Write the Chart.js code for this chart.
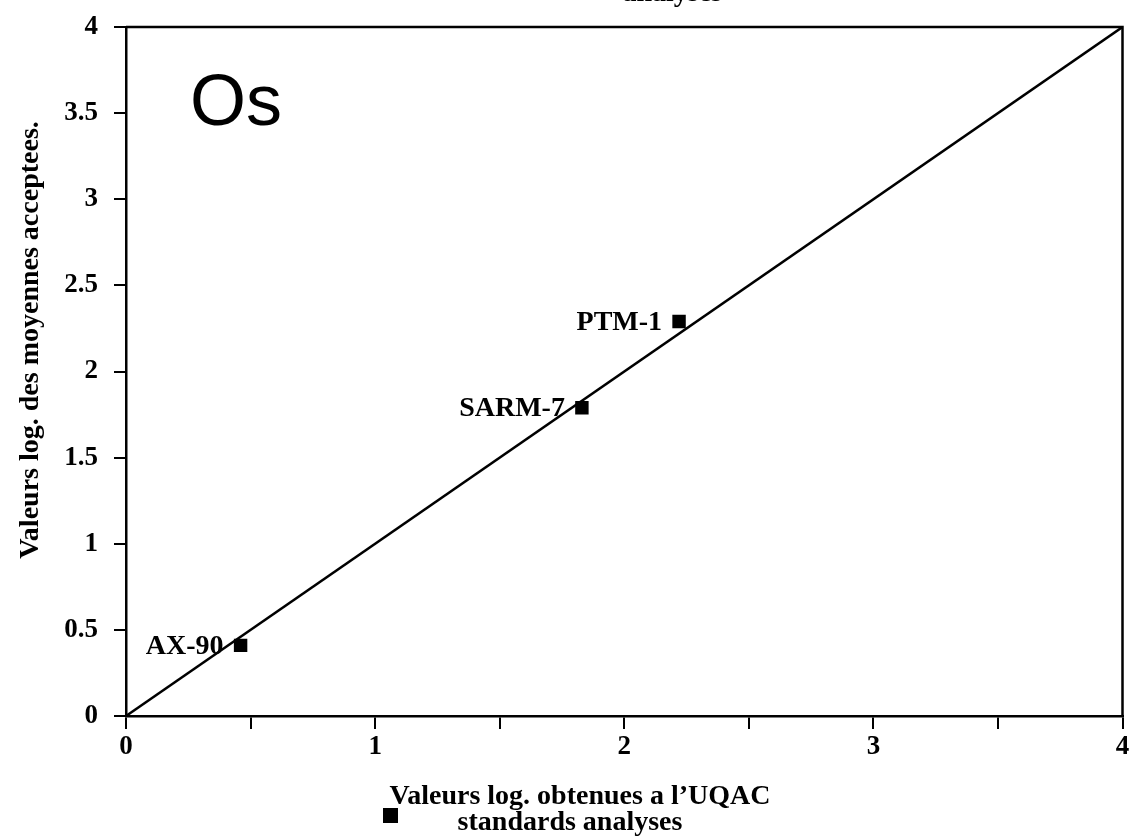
<!DOCTYPE html>
<html>
<head>
<meta charset="utf-8">
<script src="https://cdn.jsdelivr.net/npm/chart.js@4/dist/chart.umd.min.js"></script>
<style>
html,body{margin:0;padding:0;background:#fff;}
#wrap{width:1132px;height:839px;}
</style>
</head>
<body>
<div id="wrap"><canvas id="c" width="1132" height="839"></canvas></div>
<script>
// ---- data ----
const sampleNames = ['AX-90', 'SARM-7', 'PTM-1'];
const uqacValues = [0.46, 1.83, 2.22];      // x: log values obtained at UQAC
const acceptedValues = [0.41, 1.79, 2.29];  // y: log accepted mean values
const refLineX = [0, 4];
const refLineY = [0, 4];
const xTickLabels = ['0', '1', '2', '3', '4'];
const yTickLabels = ['0', '0.5', '1', '1.5', '2', '2.5', '3', '3.5', '4'];
const elementName = 'Os';
const xTitleLines = ["Valeurs log. obtenues a l\u2019UQAC", 'standards analyses'];
const topFragment = 'analyses';
const yTitle = 'Valeurs log. des moyennes acceptees.';

const SERIF = '"Liberation Serif", "Times New Roman", serif';

const pointsData = uqacValues.map((v, i) => ({x: v, y: acceptedValues[i]}));
const lineData = refLineX.map((v, i) => ({x: v, y: refLineY[i]}));

const decor = {
  id: 'decor',
  afterDraw(chart) {
    const ctx = chart.ctx;
    const a = chart.chartArea;
    const xs = chart.scales.x, ys = chart.scales.y;
    ctx.save();
    // top and right frame
    ctx.strokeStyle = '#000';
    ctx.lineWidth = 2.5;
    ctx.beginPath();
    ctx.moveTo(a.left, a.top);
    ctx.lineTo(a.right, a.top);
    ctx.lineTo(a.right, a.bottom);
    ctx.stroke();

    // point labels
    ctx.fillStyle = '#000';
    ctx.font = 'bold 28px ' + SERIF;
    ctx.textAlign = 'right';
    ctx.textBaseline = 'middle';
    sampleNames.forEach((n, i) => {
      const px = xs.getPixelForValue(uqacValues[i]);
      const py = ys.getPixelForValue(acceptedValues[i]);
      ctx.fillText(n, px - 17, py + 1);
    });

    // element name
    ctx.font = '72px "Liberation Sans", Arial, sans-serif';
    ctx.textAlign = 'left';
    ctx.textBaseline = 'alphabetic';
    ctx.fillText(elementName, 190, 125);

    // x axis title (two lines) with marker
    ctx.font = 'bold 28px ' + SERIF;
    ctx.textAlign = 'center';
    ctx.fillText(xTitleLines[0], 580, 804);
    ctx.fillText(xTitleLines[1], 570, 830);
    ctx.fillRect(383, 808, 15, 15);

    // fragment of a title cut off at the top edge
    ctx.textAlign = 'right';
    ctx.fillText(topFragment, 722, 1);

    // y axis title
    ctx.translate(31, 340);
    ctx.rotate(-Math.PI / 2);
    ctx.textAlign = 'center';
    ctx.textBaseline = 'middle';
    ctx.fillText(yTitle, 0, 0);
    ctx.restore();
  }
};

new Chart(document.getElementById('c'), {
  type: 'scatter',
  data: {
    datasets: [
      {
        data: lineData,
        showLine: true,
        borderColor: '#000',
        borderWidth: 2.5,
        pointRadius: 0,
        fill: false
      },
      {
        data: pointsData,
        pointStyle: 'rect',
        pointRadius: 9.5,
        backgroundColor: '#000',
        borderColor: '#000',
        borderWidth: 0
      }
    ]
  },
  options: {
    responsive: false,
    animation: false,
    devicePixelRatio: 1,
    layout: {padding: {top: 27, right: 0, left: 0, bottom: 0}},
    plugins: {legend: {display: false}, tooltip: {enabled: false}, title: {display: false}},
    scales: {
      x: {
        type: 'linear',
        min: 0, max: 4,
        afterFit(s) { s.height = 123; s.paddingLeft = 0; s.paddingRight = 0; },
        border: {display: true, color: '#000', width: 2.5},
        grid: {drawOnChartArea: false, drawTicks: true, tickLength: 13, color: '#000', lineWidth: 2},
        ticks: {
          stepSize: 0.5,
          autoSkip: false,
          maxRotation: 0,
          padding: 2,
          color: '#000',
          font: {family: SERIF, size: 27, weight: 'bold'},
          callback: (v) => Number.isInteger(v) ? xTickLabels[v] : ''
        }
      },
      y: {
        type: 'linear',
        min: 0, max: 4,
        afterFit(s) { s.width = 126; s.paddingTop = 0; s.paddingBottom = 0; },
        border: {display: true, color: '#000', width: 2.5},
        grid: {drawOnChartArea: false, drawTicks: true, tickLength: 12, color: '#000', lineWidth: 2},
        ticks: {
          stepSize: 0.5,
          autoSkip: false,
          padding: 16,
          color: '#000',
          font: {family: SERIF, size: 27, weight: 'bold'},
          callback: (v) => { const i = Math.round(v * 2); return (Math.abs(v * 2 - i) < 1e-9) ? yTickLabels[i] : ''; }
        }
      }
    }
  },
  plugins: [decor]
});
</script>
</body>
</html>
